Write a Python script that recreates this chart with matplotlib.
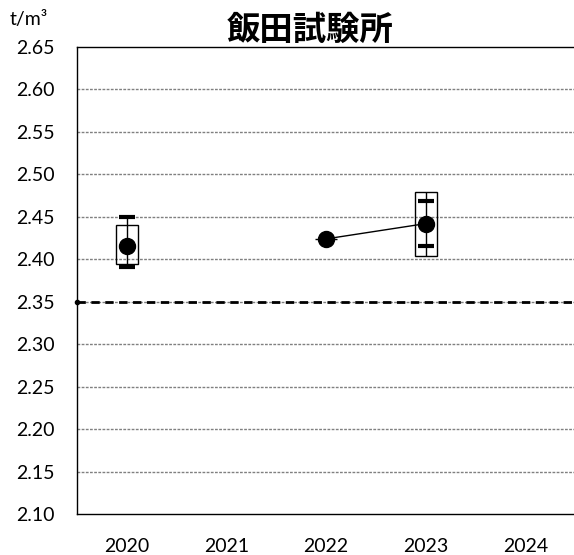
import numpy as np
import matplotlib
matplotlib.use("Agg")
import matplotlib.pyplot as plt

years = ["2020", "2021", "2022", "2023", "2024"]
mean_v = [2.416, np.nan, 2.424, 2.442, np.nan]
max_v = [2.450, np.nan, np.nan, 2.469, np.nan]
min_v = [2.391, np.nan, np.nan, 2.416, np.nan]
box_hi = [2.440, np.nan, 2.424, 2.479, np.nan]
box_lo = [2.395, np.nan, 2.424, 2.404, np.nan]
standard = 2.35
yticks = [2.10, 2.15, 2.20, 2.25, 2.30, 2.35, 2.40, 2.45, 2.50, 2.55, 2.60, 2.65]

plt.rcParams['font.family'] = ['Lato', 'DejaVu Sans']

fig = plt.figure(figsize=(5.74, 5.55), dpi=100)
ax = fig.add_axes([77/574, 1 - 514/555, 1 - 77/574 + 0.002, (514 - 47)/555])

x = np.arange(len(years))
ax.set_xlim(-0.5, 4.5)
ax.set_ylim(2.10, 2.65)
ax.set_yticks(yticks)
ax.set_yticklabels([f"{v:.2f}" for v in yticks])
ax.set_xticks(x)
ax.set_xticklabels(years)
ax.tick_params(length=0, labelsize=14, colors='black')
ax.tick_params(axis='y', pad=16)
ax.tick_params(axis='x', pad=17)

for v in yticks[1:-1]:
    ax.axhline(v, color='#808080', lw=1.0, ls=(0, (2, 1)), zorder=1)

ax.axhline(standard, color='black', lw=2.0, ls=(0, (3, 2)), zorder=2)
ax.plot([-0.5], [standard], marker='o', ms=3, color='black', clip_on=False, zorder=5)

bh = np.array(box_hi); bl = np.array(box_lo)
ax.bar(x, bh - bl, bottom=bl, width=0.22, fill=False, edgecolor='black', lw=1.0, zorder=3)

mx = np.array(max_v); mn = np.array(min_v)
top = np.fmax(mx, bh); bot = np.fmin(mn, bl)
ax.vlines(x, bot, top, color='black', lw=1.0, zorder=3)

ax.plot(x, mx, ls='none', marker='_', ms=11.5, mew=3.0, color='black', zorder=4)
ax.plot(x, mn, ls='none', marker='_', ms=11.5, mew=3.0, color='black', zorder=4)

ax.plot(x, mean_v, color='black', lw=1.0, marker='o', ms=11.5, zorder=5)

for s in ['left', 'top', 'bottom']:
    ax.spines[s].set_color('black')
    ax.spines[s].set_linewidth(1.0)
ax.spines['right'].set_visible(False)

fig.text(310/574, 1 - 30/555, "飯田試験所", ha='center', va='center', fontsize=24,
         fontweight='bold', family=['Noto Sans CJK JP', 'DejaVu Sans'])
fig.text(10/574, 1 - 20/555, "t/m³", ha='left', va='center', fontsize=14)

fig.savefig("out.png", dpi=100)
